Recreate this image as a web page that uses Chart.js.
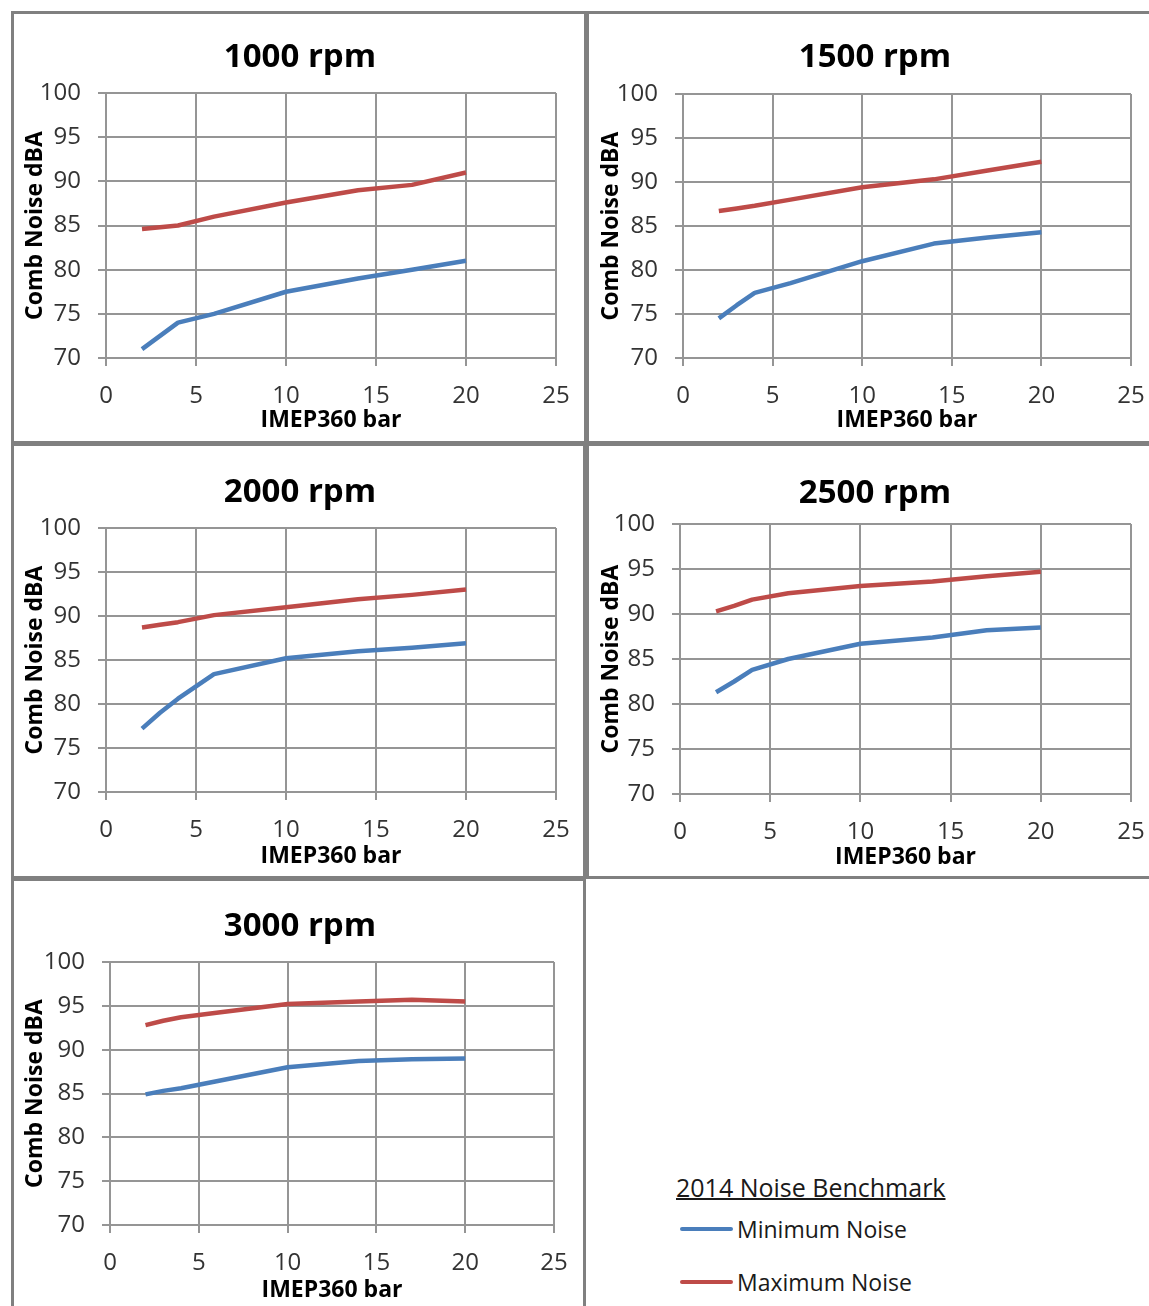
<!DOCTYPE html>
<html><head><meta charset="utf-8">
<script src="https://cdn.jsdelivr.net/npm/chart.js@4.4.1/dist/chart.umd.min.js"></script>
<style>
html,body{margin:0;padding:0;background:#fff;}
body{width:1149px;height:1306px;position:relative;overflow:hidden;font-family:"Open Sans",sans-serif;}
.box{position:absolute;border:3px solid #808080;box-sizing:border-box;}
canvas{position:absolute;}
.leg{position:absolute;color:#1a1a1a;white-space:nowrap;}
.sw{position:absolute;height:4px;width:53px;border-radius:2px;}
</style></head><body>
<div class="box" style="left:11px;top:11px;width:576px;height:433px"></div>
<div class="box" style="left:586px;top:11px;width:570px;height:433px"></div>
<div class="box" style="left:11px;top:443px;width:575px;height:436px"></div>
<div class="box" style="left:586px;top:443px;width:570px;height:436px"></div>
<div class="box" style="left:11px;top:878px;width:575px;height:440px"></div>

<div class="leg" style="left:676px;top:1172px;font-size:25px;line-height:30px;text-decoration:underline;text-decoration-thickness:2px;">2014 Noise Benchmark</div>
<div class="sw" style="left:680px;top:1227px;background:#4A7EBB"></div>
<div class="leg" style="left:737px;top:1215px;font-size:23px;line-height:28px;">Minimum Noise</div>
<div class="sw" style="left:680px;top:1280px;background:#BE4B48"></div>
<div class="leg" style="left:737px;top:1268px;font-size:23px;line-height:28px;">Maximum Noise</div>

<script>
// ---- data ----
const imep = [2, 3, 4, 6, 10, 14, 17, 20];
const xTicks = [0, 5, 10, 15, 20, 25];
const yTicks = [70, 75, 80, 85, 90, 95, 100];
const titles = ['1000 rpm', '1500 rpm', '2000 rpm', '2500 rpm', '3000 rpm'];
const seriesNames = ['Minimum Noise', 'Maximum Noise'];

const min1000 = [71.0, 72.5, 74.0, 75.0, 77.5, 79.0, 80.0, 81.0];
const max1000 = [84.6, 84.8, 85.0, 86.0, 87.6, 89.0, 89.6, 91.0];
const min1500 = [74.5, 76.0, 77.4, 78.5, 81.0, 83.0, 83.7, 84.3];
const max1500 = [86.7, 87.0, 87.3, 88.0, 89.4, 90.3, 91.3, 92.3];
const min2000 = [77.2, 79.0, 80.6, 83.4, 85.2, 86.0, 86.4, 86.9];
const max2000 = [88.7, 89.0, 89.3, 90.1, 91.0, 91.9, 92.4, 93.0];
const min2500 = [81.3, 82.5, 83.8, 85.0, 86.7, 87.4, 88.2, 88.5];
const max2500 = [90.3, 90.9, 91.6, 92.3, 93.1, 93.6, 94.2, 94.7];
const min3000 = [84.9, 85.3, 85.6, 86.4, 88.0, 88.7, 88.9, 89.0];
const max3000 = [92.8, 93.3, 93.7, 94.2, 95.2, 95.5, 95.7, 95.5];

const minSeries = [min1000, min1500, min2000, min2500, min3000];
const maxSeries = [max1000, max1500, max2000, max2500, max3000];

// ---- layout (page px) ----
const panels = [
  {c:[14,14,582,428],  a:[106,556,93,358],   t:[300,58],  yt:35,  xt:420},
  {c:[590,14,581,428], a:[683,1131,94,358],  t:[875,58],  yt:611, xt:420},
  {c:[14,447,582,429], a:[106,556,528,792],  t:[300,493], yt:35,  xt:856},
  {c:[590,447,581,429],a:[680,1131,524,794], t:[875,494], yt:611, xt:857},
  {c:[14,881,580,425], a:[110,554,962,1225], t:[300,927], yt:35,  xt:1290}
];

const BLUE = '#4A7EBB', RED = '#BE4B48', GRID = '#959595';
const FONT = '"Open Sans", sans-serif';

const panelTitle = {
  id: 'panelTitle',
  afterDraw(chart, args, opts) {
    const ctx = chart.ctx;
    ctx.save();
    ctx.font = 'bold 33px ' + FONT;
    ctx.fillStyle = '#000';
    ctx.textAlign = 'center';
    ctx.textBaseline = 'middle';
    ctx.fillText(opts.text, opts.x, opts.y);
    ctx.restore();
  }
};

panels.forEach((p, i) => {
  const [cx, cy, cw, ch] = p.c;
  const [L, R, T, B] = p.a;
  const cv = document.createElement('canvas');
  cv.width = cw; cv.height = ch;
  cv.style.left = cx + 'px'; cv.style.top = cy + 'px';
  cv.style.width = cw + 'px'; cv.style.height = ch + 'px';
  document.body.appendChild(cv);
  const yw = L - cx, xh = cy + ch - B;
  const mk = arr => imep.map((x, k) => ({x: x, y: arr[k]}));
  new Chart(cv, {
    type: 'line',
    data: {
      datasets: [
        {label: seriesNames[0], data: mk(minSeries[i]), borderColor: BLUE, borderWidth: 4.5, pointRadius: 0, tension: 0, borderJoinStyle: 'round', fill: false},
        {label: seriesNames[1], data: mk(maxSeries[i]), borderColor: RED, borderWidth: 4.5, pointRadius: 0, tension: 0, borderJoinStyle: 'round', fill: false}
      ]
    },
    options: {
      responsive: false, animation: false, devicePixelRatio: 1,
      layout: {padding: {left: 0, top: T - cy, right: cx + cw - R, bottom: 0}},
      plugins: {
        legend: {display: false}, tooltip: {enabled: false}, title: {display: false},
        panelTitle: {text: titles[i], x: p.t[0] - cx, y: p.t[1] - cy}
      },
      scales: {
        x: {
          type: 'linear', min: xTicks[0], max: xTicks[xTicks.length - 1],
          afterFit: s => { s.height = xh; },
          ticks: {stepSize: 5, padding: 16, color: '#333', font: {family: FONT, size: 24}},
          grid: {color: GRID, lineWidth: 2, tickLength: 8, drawTicks: true},
          border: {color: GRID, width: 2},
          title: {display: true, text: 'IMEP360 bar', color: '#000', font: {family: FONT, size: 23, weight: 'bold'},
                  padding: {top: 0, bottom: (cy + ch) - p.xt - 13.8}}
        },
        y: {
          min: yTicks[0], max: yTicks[yTicks.length - 1],
          afterFit: s => { s.width = yw; },
          ticks: {stepSize: 5, padding: 17, color: '#333', font: {family: FONT, size: 24}},
          grid: {color: GRID, lineWidth: 2, tickLength: 8, drawTicks: true},
          border: {color: GRID, width: 2},
          title: {display: true, text: 'Comb Noise dBA', color: '#000', font: {family: FONT, size: 23, weight: 'bold'},
                  padding: {top: (p.yt - cx) - 13.8, bottom: 0}}
        }
      }
    },
    plugins: [panelTitle]
  });
});
</script>
</body></html>
